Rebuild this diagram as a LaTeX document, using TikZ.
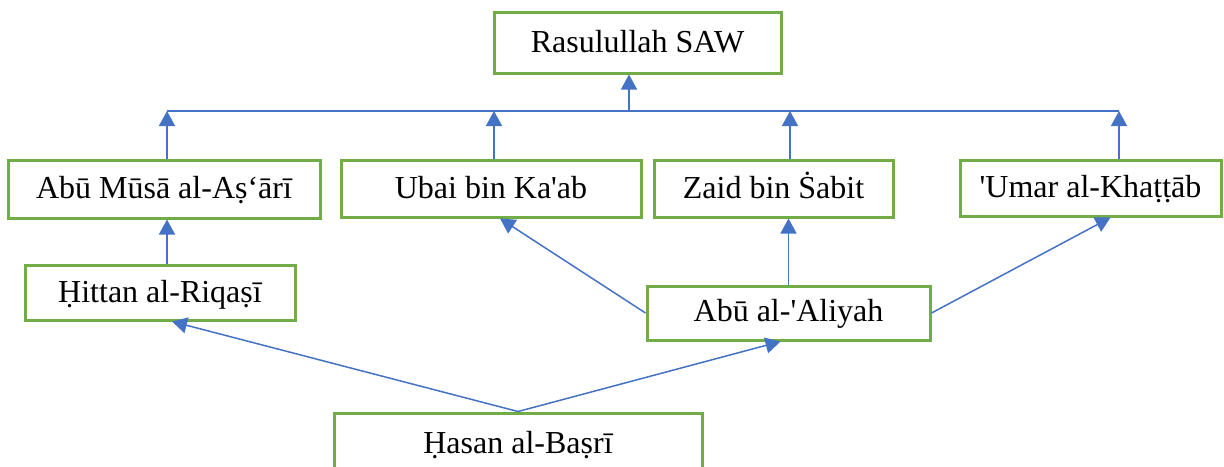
\documentclass[tikz,border=0pt]{standalone}
\usepackage{fontspec}
\setmainfont{Liberation Serif}[Ligatures=TeXOff]
\usepackage{xcolor}
\usetikzlibrary{arrows.meta}
\definecolor{boxgreen}{HTML}{70AD47}
\definecolor{lineblue}{HTML}{4472C4}
\tikzset{
	namebox/.style={draw=boxgreen,line width=1.5pt,inner sep=0pt,text height=9.5pt,text depth=0pt,font=\fontsize{16}{19}\selectfont},
	link/.style={draw=lineblue,line width=0.75pt},
	arr/.style={link,-{Triangle[width=8pt,length=7.5pt]}}
}

\begin{document}
\begin{tikzpicture}[x=0.5pt,y=-0.5pt]
	\useasboundingbox (0,0) rectangle (1224,466);
	\node[namebox,minimum width=143.5pt,minimum height=30.5pt] at (637.5,42.5) (rasul) {Rasulullah SAW};
	\node[namebox,minimum width=156pt,minimum height=29pt] at (164,189) (musa) {Abū Mūsā al-Aṣ‘ārī};
	\node[namebox,minimum width=150pt,minimum height=28.5pt] at (491,188.5) (ubai) {Ubai bin Ka'ab};
	\node[namebox,minimum width=119.5pt,minimum height=28.5pt] at (773.5,188.5) (zaid) {Zaid bin Ṡabit};
	\node[namebox,minimum width=130.5pt,minimum height=28pt] at (1090.5,188) (umar) {'Umar al-Khaṭṭāb};
	\node[namebox,minimum width=135pt,minimum height=27.5pt] at (160,292.5) (hittan) {Ḥittan al-Riqaṣī};
	\node[namebox,minimum width=141.5pt,minimum height=27pt,text height=8pt] at (788.5,313) (aliyah) {Abū al-'Aliyah};
	\node[namebox,minimum width=184pt,minimum height=31pt] at (518,444) (hasan) {Ḥasan al-Baṣrī};
	% bus line under the top box
	\coordinate (b0) at (629,111);
	\coordinate (b1) at (167,111);
	\coordinate (b2) at (494,111);
	\coordinate (b3) at (790,111);
	\coordinate (b4) at (1119,111);
	\draw [link] (b1) -- (b4);
	\draw [arr] (b0) -- (b0 |- rasul.south);
	\draw [arr] (musa.north -| b1) -- (b1);
	\draw [arr] (ubai.north -| b2) -- (b2);
	\draw [arr] (zaid.north -| b3) -- (b3);
	\draw [arr] (umar.north -| b4) -- (b4);
	% lower links
	\draw [arr] (hittan.north -| b1) -- (musa.south -| b1);
	\draw [arr] (aliyah.west) -- ([xshift=4.5pt]ubai.south);
	\draw [arr] (aliyah.north) -- (aliyah.north |- zaid.south);
	\draw [arr] (aliyah.east) -- ([xshift=10pt]umar.south);
	\draw [arr] (hasan.north) -- ([xshift=6pt]hittan.south);
	\draw [arr] (hasan.north) -- ([xshift=-4pt]aliyah.south);
\end{tikzpicture}
\end{document}
